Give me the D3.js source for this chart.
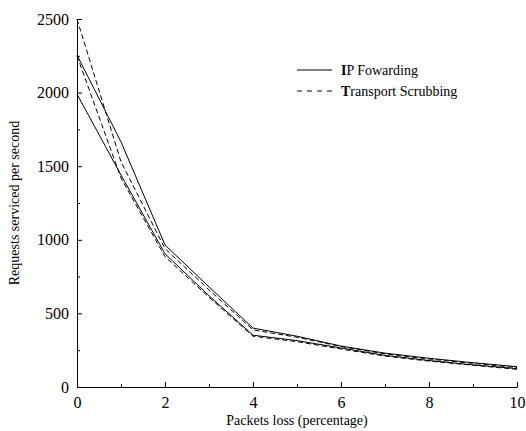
<!DOCTYPE html>
<html lang="en">
<head>
    <meta charset="UTF-8">
    <title>Requests serviced vs packet loss</title>
    <style>
        body { margin: 0; background: #fff; }
        svg text { font-family: 'Liberation Serif', Tinos, 'Times New Roman', Times, 'DejaVu Serif', serif; }
        .axis path, .axis line { stroke: #000; stroke-width: 1px; }
        .series { fill: none; stroke: #000; stroke-width: 1px; }
    </style>
    <script src="https://d3js.org/d3.v7.min.js"></script>
</head>
<body>
    <svg width="526" height="431"></svg>
    <script>
        // packet loss (%) on x
        const lossPct = [0, 1, 2, 3, 4, 5, 6, 7, 8, 9, 10];

        // two runs (upper / lower) per configuration
        const ipUpper = [2255, 1665, 965, 680, 400, 345, 278, 230, 195, 165, 138];
        const ipLower = [1990, 1440, 905, 620, 352, 315, 265, 215, 180, 150, 125];
        const tsUpper = [2500, 1530, 940, 660, 388, 338, 275, 225, 190, 160, 132];
        const tsLower = [2250, 1420, 885, 610, 345, 308, 258, 210, 176, 148, 120];

        const xTicks = [0, 2, 4, 6, 8, 10];
        const yTicks = [0, 500, 1000, 1500, 2000, 2500];

        const legendNames = ["IP Fowarding", "Transport Scrubbing"];

        const FONT = "Liberation Serif, Times New Roman, Times, serif";

        const svg = d3.select("svg");
        const margin = { left: 77, right: 9, top: 19, bottom: 44 };
        const width = +svg.attr("width");
        const height = +svg.attr("height");

        const x = d3.scaleLinear().domain([0, 10])
            .range([margin.left, width - margin.right]);
        const y = d3.scaleLinear().domain([0, 2500])
            .range([height - margin.bottom, margin.top]);

        // minor ticks (inward, shorter)
        const xAxisMinor = d3.axisTop(x).tickValues(d3.range(1, 10, 2))
            .tickSize(3).tickFormat("");
        const yAxisMinor = d3.axisRight(y).tickValues(d3.range(250, 2500, 500))
            .tickSize(3).tickFormat("");

        svg.append("g").attr("class", "axis")
            .attr("transform", `translate(0,${y(0)})`)
            .call(xAxisMinor)
            .call(g => g.select(".domain").remove());
        svg.append("g").attr("class", "axis")
            .attr("transform", `translate(${x(0)},0)`)
            .call(yAxisMinor)
            .call(g => g.select(".domain").remove());

        // major ticks pointing inward, labels outside
        const xAxis = svg.append("g").attr("class", "axis")
            .attr("transform", `translate(0,${y(0)})`)
            .call(d3.axisBottom(x).tickValues(xTicks).tickFormat(d3.format("d"))
                .tickSizeInner(-5).tickSizeOuter(0).tickPadding(10));
        xAxis.attr("font-family", FONT).attr("font-size", 16);

        const yAxis = svg.append("g").attr("class", "axis")
            .attr("transform", `translate(${x(0)},0)`)
            .call(d3.axisLeft(y).tickValues(yTicks).tickFormat(d3.format("d"))
                .tickSizeInner(-5).tickSizeOuter(0).tickPadding(8));
        yAxis.attr("font-family", FONT).attr("font-size", 16);

        // axis titles
        svg.append("text")
            .attr("x", (x(0) + x(10)) / 2)
            .attr("y", 425)
            .attr("text-anchor", "middle")
            .attr("font-size", 14)
            .text("Packets loss (percentage)");

        svg.append("text")
            .attr("transform", `translate(19,${(y(0) + y(2500)) / 2}) rotate(-90)`)
            .attr("text-anchor", "middle")
            .attr("font-size", 14)
            .text("Requests serviced per second");

        // lines
        const line = d3.line()
            .x((d, i) => x(lossPct[i]))
            .y(d => y(d));

        const series = [
            { values: ipUpper, dash: null },
            { values: ipLower, dash: null },
            { values: tsUpper, dash: "5,3" },
            { values: tsLower, dash: "5,3" }
        ];

        svg.selectAll("path.series")
            .data(series)
            .enter().append("path")
            .attr("class", "series")
            .attr("d", d => line(d.values))
            .attr("stroke-dasharray", d => d.dash);

        // legend
        const legend = svg.append("g").attr("transform", "translate(297,70)");
        const dashes = [null, "5,5"];
        legendNames.forEach((name, i) => {
            const row = legend.append("g").attr("transform", `translate(0,${i * 21})`);
            row.append("line")
                .attr("x1", 0).attr("x2", 35)
                .attr("y1", 0).attr("y2", 0)
                .attr("stroke", "#000")
                .attr("stroke-dasharray", dashes[i]);
            const t = row.append("text")
                .attr("x", 44).attr("y", 5)
                .attr("font-size", 14);
            t.append("tspan").attr("font-weight", "bold").text(name[0]);
            t.append("tspan").text(name.slice(1));
        });
    </script>
</body>
</html>
